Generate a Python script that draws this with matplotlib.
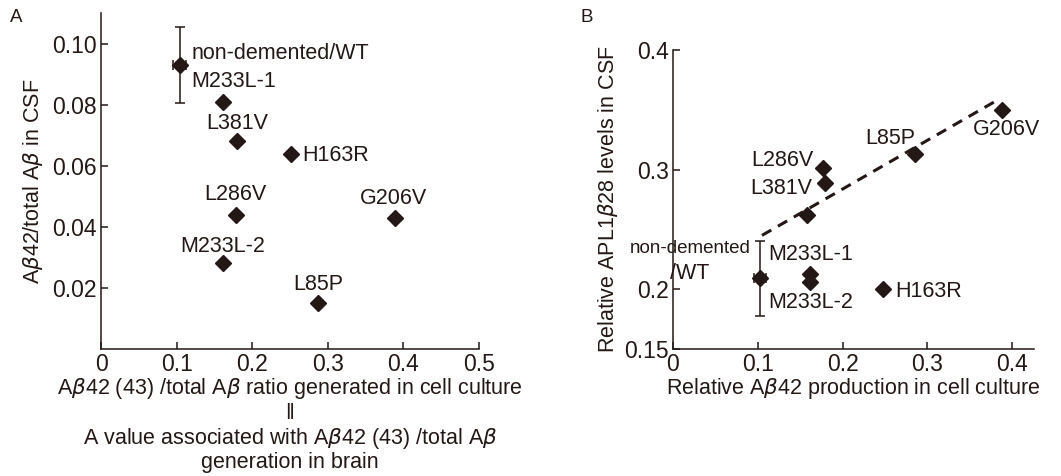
import matplotlib
matplotlib.use("Agg")
import matplotlib.pyplot as plt

plt.rcParams['font.family'] = ['Liberation Sans', 'DejaVu Sans']
plt.rcParams['mathtext.fontset'] = 'dejavusans'

ink = '#231815'

# panel A: CSF Abeta42 ratio vs cell culture Abeta42(43) ratio
a_labels = ['non-demented/WT', 'M233L-1', 'L381V', 'H163R', 'L286V', 'G206V', 'M233L-2', 'L85P']
a_x = [0.104, 0.161, 0.180, 0.251, 0.178, 0.389, 0.161, 0.287]
a_y = [0.093, 0.081, 0.068, 0.064, 0.044, 0.043, 0.028, 0.015]
a_wt_xerr = 0.0085
a_wt_yerr = 0.0125

# panel B: APL1beta28 in CSF vs Abeta42 in cell culture
b_labels = ['non-demented', 'M233L-1', 'M233L-2', 'H163R', 'L286V', 'L381V', '', 'L85P', 'G206V']
b_x = [0.103, 0.162, 0.162, 0.248, 0.177, 0.179, 0.158, 0.286, 0.388]
b_y = [0.209, 0.213, 0.206, 0.200, 0.301, 0.289, 0.262, 0.313, 0.350]
b_wt_xerr = 0.007
b_wt_yerr = 0.031
fit_x = [0.105, 0.385]
fit_y = [0.245, 0.359]

# label offsets in pixels (dx, dy, ha)
a_offsets = [(12, 11, 'left'), (-31, 20, 'left'), (0, 18, 'center'), (11, -2, 'left'),
             (0, 20, 'center'), (-2, 19, 'center'), (0, 17, 'center'), (0, 19, 'center')]
b_offsets = [(-10, 30, 'right'), (-42, 19, 'left'), (-42, -20, 'left'), (12, -2, 'left'),
             (-10, 8, 'right'), (-12, -6, 'right'), (0, 0, 'center'), (-25, 16, 'center'),
             (5, -20, 'center')]

fig = plt.figure(figsize=(10.61, 4.76), dpi=100)
axA = fig.add_axes([0.0952, 0.2668, 0.3563, 0.7059])
axB = fig.add_axes([0.6343, 0.2668, 0.3403, 0.6282])

fs = 15.5
for ax in (axA, axB):
    ax.spines['top'].set_visible(False)
    ax.spines['right'].set_visible(False)
    for s in ('left', 'bottom'):
        ax.spines[s].set_color(ink)
        ax.spines[s].set_linewidth(1.1)
    ax.tick_params(direction='in', length=5, width=1.1, color=ink, labelcolor=ink,
                   labelsize=16.5, pad=3)

# A
axA.errorbar(a_x[0], a_y[0], xerr=a_wt_xerr, yerr=a_wt_yerr, fmt='none', ecolor=ink,
             elinewidth=1.1, capsize=3.3, capthick=1.1)
axA.plot(a_x, a_y, 'D', color=ink, markersize=8.5, linestyle='none')
for lab, x, y, (dx, dy, ha) in zip(a_labels, a_x, a_y, a_offsets):
    axA.annotate(lab, (x, y), xytext=(dx, dy), textcoords='offset pixels', ha=ha,
                 va='center', fontsize=fs, color=ink)
axA.set_xlim(0, 0.5)
axA.set_ylim(0, 0.11)
axA.set_xticks([0, 0.1, 0.2, 0.3, 0.4, 0.5])
axA.set_xticklabels(['0', '0.1', '0.2', '0.3', '0.4', '0.5'])
axA.set_yticks([0.02, 0.04, 0.06, 0.08, 0.10])
axA.set_yticklabels(['0.02', '0.04', '0.06', '0.08', '0.10'])
axA.set_ylabel(r'A$\beta$42/total A$\beta$ in CSF', fontsize=fs, color=ink, labelpad=5)
axA.set_xlabel('A$\\beta$42 (43) /total A$\\beta$ ratio generated in cell culture\n‖\n'
               'A value associated with A$\\beta$42 (43) /total A$\\beta$\ngeneration in brain',
               fontsize=fs, color=ink, linespacing=1.1, labelpad=0)

# B
axB.plot(fit_x, fit_y, linestyle=(0, (3.5, 2.5)), color=ink, linewidth=2.2)
axB.errorbar(b_x[0], b_y[0], xerr=b_wt_xerr, yerr=b_wt_yerr, fmt='none', ecolor=ink,
             elinewidth=1.1, capsize=3.3, capthick=1.1)
axB.plot(b_x, b_y, 'D', color=ink, markersize=8.5, linestyle='none')
for lab, x, y, (dx, dy, ha) in zip(b_labels, b_x, b_y, b_offsets):
    if lab:
        size = 13.5 if lab == 'non-demented' else fs
        axB.annotate(lab, (x, y), xytext=(dx, dy), textcoords='offset pixels', ha=ha,
                     va='center', fontsize=size, color=ink)
axB.annotate('/WT', (b_x[0], b_y[0]), xytext=(-90, 5), textcoords='offset pixels',
             ha='left', va='center', fontsize=fs, color=ink)
axB.set_xlim(0, 0.426)
axB.set_ylim(0.15, 0.4)
axB.set_xticks([0, 0.1, 0.2, 0.3, 0.4])
axB.set_xticklabels(['0', '0.1', '0.2', '0.3', '0.4'])
axB.set_yticks([0.15, 0.2, 0.3, 0.4])
axB.set_yticklabels(['0.15', '0.2', '0.3', '0.4'])
axB.set_ylabel(r'Relative APL1$\beta$28 levels in CSF', fontsize=fs, color=ink, labelpad=3)
axB.set_xlabel(r'Relative A$\beta$42 production in cell culture', fontsize=fs, color=ink,
               labelpad=0)

fig.text(10 / 1061, 1 - 18 / 476, 'A', fontsize=13.5, color=ink, va='center', ha='left')
fig.text(580 / 1061, 1 - 18 / 476, 'B', fontsize=13.5, color=ink, va='center', ha='left')

fig.savefig('out.png', dpi=100)
